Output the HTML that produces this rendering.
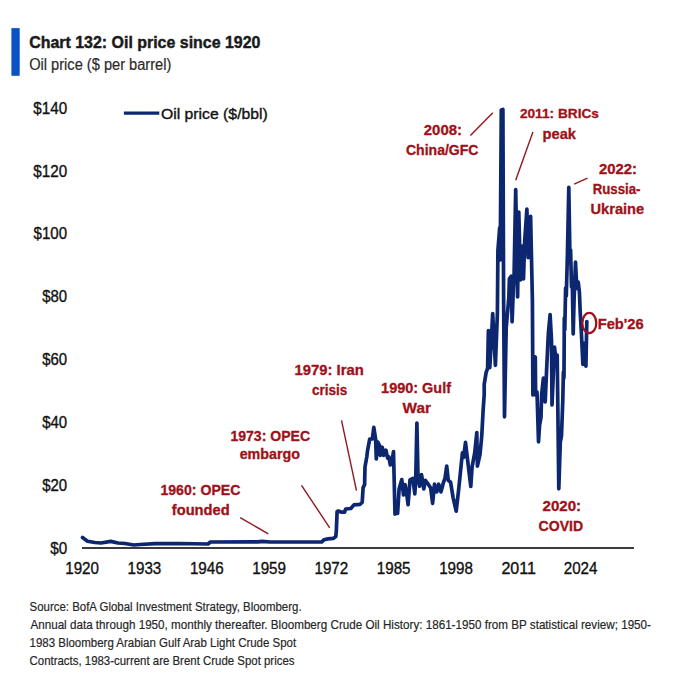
<!DOCTYPE html>
<html><head><meta charset="utf-8"><title>Chart 132: Oil price since 1920</title>
<style>
html,body{margin:0;padding:0;background:#fff;width:675px;height:680px;overflow:hidden}
svg{display:block;font-family:"Liberation Sans",sans-serif}
</style></head><body>
<svg width="675" height="680" viewBox="0 0 675 680">
<rect x="0" y="0" width="675" height="680" fill="#fff"/>
<rect x="11.4" y="28.1" width="8.3" height="47.7" fill="#0a53c6"/>
<line x1="82" y1="548.1" x2="634" y2="548.1" stroke="#3c3c3c" stroke-width="2"/>
<line x1="123.9" y1="113.1" x2="159.3" y2="113.1" stroke="#0d2670" stroke-width="3.4"/>
<g stroke="#8e1a1f" stroke-width="1.4" fill="none">
<line x1="240.2" y1="517.7" x2="268.3" y2="533.9"/>
<line x1="301.5" y1="485.3" x2="329.7" y2="527.8"/>
<line x1="341.5" y1="420.3" x2="356.5" y2="490.7"/>
<line x1="470.4" y1="135.5" x2="492.8" y2="112.8"/>
<line x1="532.9" y1="132" x2="515.7" y2="180.3"/>
<line x1="574.1" y1="184.1" x2="587.5" y2="178.1"/>
</g>
<polyline points="82.5,537.5 87.5,541.2 95,542.5 101,543 110.7,541.4 118,543 125,543.5 133.9,545 140,544.5 155,543.7 180,543.5 208,544 210.4,542 258,541.9 262,541.3 270,542 321.8,541.8 323.9,539.8 328,538.9 333.2,538.4 335.8,536.5 336.3,531.3 337.1,511.6 338.4,511.1 341,512.1 344.6,512.1 345.6,509 350.8,508.5 353.9,504.9 360.2,504.3 362.2,502.3 363.1,487.6 364.6,484.7 365,467 366.8,456.8 367.5,450.9 369.7,439.1 372.4,438.8 373.8,427.4 375.6,439.1 376.3,459 377.8,442.1 379.3,445 380.3,455.3 382.2,447.2 383.7,455.3 385.9,450.1 387.6,458.2 388.8,456.8 390.3,464.9 391.8,462.6 393.5,451.6 395,514.1 396.5,502.4 397.6,513.4 399.1,489.1 401.8,479.6 403.5,495 405,484.7 406.5,492.4 408.1,504.7 410,480 412.9,478.5 414.8,493.8 415.7,480.4 416.9,423 418,476.6 419.6,486.1 421.5,474.6 423.8,489 425.3,480.4 428.2,484.2 430.7,488 432.6,503.3 434.5,484.2 436.8,491.9 438.7,484.2 441,491.9 443.5,482.3 445,478.5 446.7,466 448.3,480.4 450.6,482.3 453.1,497.6 456.2,511.2 458.8,488.2 460.6,470.6 462.4,452.9 463.6,457.4 465.5,442.4 467.6,460 470.8,486.5 472.1,467 474.7,452.9 476.8,432.6 477.4,466.2 480,454.7 481.8,435.3 483.1,410.9 484.2,394.7 484.2,384.4 486.1,372.6 487.6,368.2 488.4,330.6 489.8,367.6 492.7,313.5 495.4,365.3 497.4,313.5 497.9,250.6 499.7,227.6 500.2,260 501.3,110 502.9,109.5 503.6,297.6 504.5,416.8 506.2,327.6 508.8,298.2 509.4,278.8 511.2,276.2 512.1,321.8 513.3,290 514.1,274 515.7,189.5 517.6,297 518.8,212 520.5,280 522,246 523.5,279 524.7,241 526.9,209.2 528.1,257.6 530.6,216.4 532.4,300 532.9,395 533.8,362 535.3,357 535.6,395 537,392 538.5,441.8 539.6,425 541,417.5 541.6,395 543.4,378 545.2,402 546.6,370 547.8,344.7 548.4,333 550.1,314.7 551.5,340 552,405 553.1,379.4 554.5,347 555.4,355 557.2,355 558.8,488.8 560.3,442 561.5,436 562.8,400 563.4,372 564,378 564.3,318 564.8,330 565.6,288 566.3,296 567.4,255 568.8,187.4 569.9,255 570.6,250 571.5,287 572.3,282 573.2,334 574.1,299 575.5,262 576.8,288.5 578.2,282 579.4,292 580.2,312 581.2,329 582.9,364.4 584.7,343.2 585.9,366.2 586.8,321.5" fill="none" stroke="#0d2670" stroke-width="3.7" stroke-linejoin="round" stroke-linecap="round"/>
<ellipse cx="589.3" cy="323" rx="7" ry="10.2" fill="none" stroke="#9e1118" stroke-width="2.3"/>
<text transform="translate(29.17 48.20) scale(0.9304 1)" font-size="17.15" font-weight="bold" fill="#1a1a1a" stroke="#1a1a1a" stroke-width="0.45">Chart 132: Oil price since 1920</text>
<text transform="translate(29.18 70.20) scale(0.9150 1)" font-size="15.99" fill="#2b2b2b" stroke="#2b2b2b" stroke-width="0.2">Oil price ($ per barrel)</text>
<text transform="translate(33.30 113.70) scale(0.9429 1)" font-size="16.13" fill="#111111" stroke="#111111" stroke-width="0.35">$140</text>
<text transform="translate(33.30 176.53) scale(0.9429 1)" font-size="16.13" fill="#111111" stroke="#111111" stroke-width="0.35">$120</text>
<text transform="translate(33.60 239.36) scale(0.9343 1)" font-size="16.13" fill="#111111" stroke="#111111" stroke-width="0.35">$100</text>
<text transform="translate(42.20 302.19) scale(0.9269 1)" font-size="16.13" fill="#111111" stroke="#111111" stroke-width="0.35">$80</text>
<text transform="translate(42.20 365.02) scale(0.9269 1)" font-size="16.13" fill="#111111" stroke="#111111" stroke-width="0.35">$60</text>
<text transform="translate(42.20 427.85) scale(0.9269 1)" font-size="16.13" fill="#111111" stroke="#111111" stroke-width="0.35">$40</text>
<text transform="translate(42.20 490.68) scale(0.9269 1)" font-size="16.13" fill="#111111" stroke="#111111" stroke-width="0.35">$20</text>
<text transform="translate(50.20 553.51) scale(0.9471 1)" font-size="16.13" fill="#111111" stroke="#111111" stroke-width="0.35">$0</text>
<text transform="translate(65.27 574.20) scale(0.9314 1)" font-size="16.28" fill="#111111" stroke="#111111" stroke-width="0.35">1920</text>
<text transform="translate(127.58 574.20) scale(0.9314 1)" font-size="16.28" fill="#111111" stroke="#111111" stroke-width="0.35">1933</text>
<text transform="translate(189.89 574.20) scale(0.9314 1)" font-size="16.28" fill="#111111" stroke="#111111" stroke-width="0.35">1946</text>
<text transform="translate(252.20 574.20) scale(0.9314 1)" font-size="16.28" fill="#111111" stroke="#111111" stroke-width="0.35">1959</text>
<text transform="translate(314.51 574.20) scale(0.9314 1)" font-size="16.28" fill="#111111" stroke="#111111" stroke-width="0.35">1972</text>
<text transform="translate(376.82 574.20) scale(0.9314 1)" font-size="16.28" fill="#111111" stroke="#111111" stroke-width="0.35">1985</text>
<text transform="translate(439.13 574.20) scale(0.9314 1)" font-size="16.28" fill="#111111" stroke="#111111" stroke-width="0.35">1998</text>
<text transform="translate(501.38 574.20) scale(0.9879 1)" font-size="16.28" fill="#111111" stroke="#111111" stroke-width="0.35">2011</text>
<text transform="translate(563.75 574.20) scale(0.9314 1)" font-size="16.28" fill="#111111" stroke="#111111" stroke-width="0.35">2024</text>
<text transform="translate(160.94 118.50) scale(1.0636 1)" font-size="14.83" fill="#111111" stroke="#111111" stroke-width="0.35">Oil price ($/bbl)</text>
<text transform="translate(160.40 495.30) scale(1.0026 1)" font-size="14.10" font-weight="bold" fill="#9e1118" stroke="#9e1118" stroke-width="0.3">1960: OPEC</text>
<text transform="translate(171.80 515.20) scale(1.0481 1)" font-size="14.00" font-weight="bold" fill="#9e1118" stroke="#9e1118" stroke-width="0.3">founded</text>
<text transform="translate(230.42 440.70) scale(0.9775 1)" font-size="14.39" font-weight="bold" fill="#9e1118" stroke="#9e1118" stroke-width="0.3">1973: OPEC</text>
<text transform="translate(239.68 459.40) scale(1.0207 1)" font-size="14.00" font-weight="bold" fill="#9e1118" stroke="#9e1118" stroke-width="0.3">embargo</text>
<text transform="translate(294.53 375.10) scale(1.0746 1)" font-size="13.81" font-weight="bold" fill="#9e1118" stroke="#9e1118" stroke-width="0.3">1979: Iran</text>
<text transform="translate(311.93 395.10) scale(0.9657 1)" font-size="14.00" font-weight="bold" fill="#9e1118" stroke="#9e1118" stroke-width="0.3">crisis</text>
<text transform="translate(381.09 392.50) scale(1.0058 1)" font-size="14.39" font-weight="bold" fill="#9e1118" stroke="#9e1118" stroke-width="0.3">1990: Gulf</text>
<text transform="translate(402.60 412.70) scale(1.0407 1)" font-size="14.68" font-weight="bold" fill="#9e1118" stroke="#9e1118" stroke-width="0.3">War</text>
<text transform="translate(423.80 134.50) scale(1.0706 1)" font-size="13.95" font-weight="bold" fill="#9e1118" stroke="#9e1118" stroke-width="0.3">2008:</text>
<text transform="translate(405.91 154.60) scale(0.9875 1)" font-size="14.24" font-weight="bold" fill="#9e1118" stroke="#9e1118" stroke-width="0.3">China/GFC</text>
<text transform="translate(519.90 118.10) scale(1.0234 1)" font-size="13.37" font-weight="bold" fill="#9e1118" stroke="#9e1118" stroke-width="0.3">2011: BRICs</text>
<text transform="translate(542.55 138.60) scale(1.0484 1)" font-size="14.00" font-weight="bold" fill="#9e1118" stroke="#9e1118" stroke-width="0.3">peak</text>
<text transform="translate(598.90 173.70) scale(1.0676 1)" font-size="13.95" font-weight="bold" fill="#9e1118" stroke="#9e1118" stroke-width="0.3">2022:</text>
<text transform="translate(592.76 194.10) scale(0.9367 1)" font-size="14.10" font-weight="bold" fill="#9e1118" stroke="#9e1118" stroke-width="0.3">Russia-</text>
<text transform="translate(590.52 214.40) scale(0.9774 1)" font-size="14.97" font-weight="bold" fill="#9e1118" stroke="#9e1118" stroke-width="0.3">Ukraine</text>
<text transform="translate(542.50 510.70) scale(1.0824 1)" font-size="13.95" font-weight="bold" fill="#9e1118" stroke="#9e1118" stroke-width="0.3">2020:</text>
<text transform="translate(538.59 530.70) scale(1.0093 1)" font-size="13.95" font-weight="bold" fill="#9e1118" stroke="#9e1118" stroke-width="0.3">COVID</text>
<text transform="translate(597.69 328.70) scale(1.0136 1)" font-size="14.53" font-weight="bold" fill="#9e1118" stroke="#9e1118" stroke-width="0.3">Feb&#x27;26</text>
<text transform="translate(29.56 610.60) scale(0.8385 1)" font-size="13.66" fill="#262626" stroke="#262626" stroke-width="0.2">Source: BofA Global Investment Strategy, Bloomberg.</text>
<text transform="translate(30.40 628.70) scale(0.8547 1)" font-size="13.66" fill="#262626" stroke="#262626" stroke-width="0.2">Annual data through 1950, monthly thereafter. Bloomberg Crude Oil History: 1861-1950 from BP statistical review; 1950-</text>
<text transform="translate(29.56 646.90) scale(0.8405 1)" font-size="13.66" fill="#262626" stroke="#262626" stroke-width="0.2">1983 Bloomberg Arabian Gulf Arab Light Crude Spot</text>
<text transform="translate(29.52 665.10) scale(0.8842 1)" font-size="12.94" fill="#262626" stroke="#262626" stroke-width="0.2">Contracts, 1983-current are Brent Crude Spot prices</text>
</svg>
</body></html>
